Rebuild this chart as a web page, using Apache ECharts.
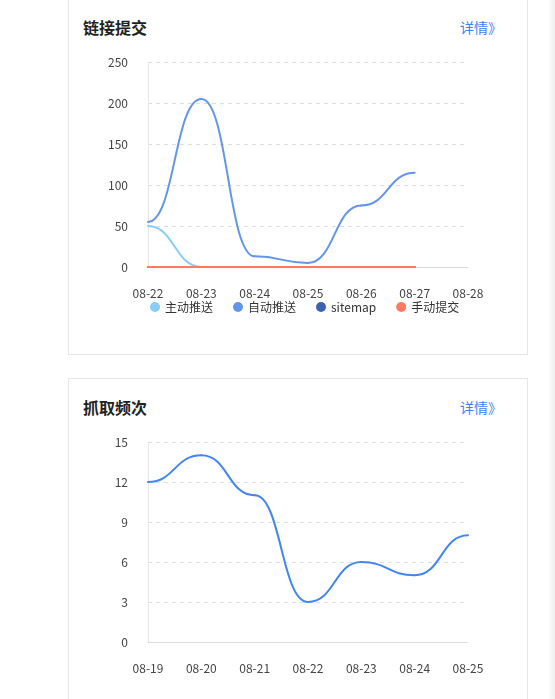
<!DOCTYPE html>
<html>
<head>
<meta charset="utf-8">
<script src="https://cdn.jsdelivr.net/npm/echarts@6/dist/echarts.min.js"></script>
<style>
  html, body { margin: 0; padding: 0; background: #fff; overflow: hidden; }
  body { width: 555px; height: 699px; position: relative; font-family: 'Noto Sans CJK SC', 'Noto Sans', sans-serif; }
  .card { position: absolute; left: 68px; width: 458px; border: 1px solid #e6e6e6; background: #fff; }
  .title { position: absolute; left: 83px; font-size: 16px; font-weight: bold; color: #222; line-height: 20px; }
  .more { position: absolute; left: 460px; font-size: 14px; color: #3d7eff; line-height: 18px; }
  .chart { position: absolute; left: 0; width: 555px; }
  .edge { position: absolute; left: 549px; top: 0; width: 6px; height: 699px; background: linear-gradient(to right, #fafafa, #f0f0f0); }
</style>
</head>
<body>
<div class="edge"></div>
<div class="card" style="top:-20px;height:373px;"></div>
<div class="card" style="top:378px;height:340px;"></div>
<div class="title" style="top:17px;">链接提交</div>
<div class="more" style="top:18px;">详情》</div>
<div class="title" style="top:397px;">抓取频次</div>
<div class="more" style="top:398px;">详情》</div>
<div id="c1" class="chart" style="top:0;height:354px;"></div>
<div id="c2" class="chart" style="top:378px;height:321px;"></div>
<script>
// 链接提交
var linkDays = ['08-22', '08-23', '08-24', '08-25', '08-26', '08-27', '08-28'];
var activePush = [50, 0, 0, 0, 0, 0];
var autoPush = [55, 205, 13, 5, 75, 115];
var sitemap = [0, 0, 0, 0, 0, 0];
var manual = [0, 0, 0, 0, 0, 0];

// 抓取频次
var crawlDays = ['08-19', '08-20', '08-21', '08-22', '08-23', '08-24', '08-25'];
var crawlCount = [12, 14, 11, 3, 6, 5, 8];

var font = "'Noto Sans CJK SC', 'Noto Sans', sans-serif";

function baseAxes(days, max, interval) {
  return {
    xAxis: {
      type: 'category',
      data: days,
      boundaryGap: false,
      axisLine: { lineStyle: { color: '#dcdcdc' } },
      axisTick: { show: false },
      axisLabel: { color: '#444', fontSize: 12, margin: 20, fontFamily: font }
    },
    yAxis: {
      type: 'value',
      min: 0,
      max: max,
      interval: interval,
      axisLine: { show: true, lineStyle: { color: '#e6e6e6' } },
      axisTick: { show: false },
      axisLabel: { color: '#444', fontSize: 12, margin: 20, fontFamily: font },
      splitLine: { lineStyle: { color: '#dddddd', type: [4, 4] } }
    }
  };
}

// smooth line with flat tangents at every point (old echarts look),
// one bezier per segment, positions from the axes via api.coord
function curveSeries(name, values, color) {
  var segs = [];
  for (var i = 0; i < values.length - 1; i++) {
    segs.push([i, values[i], i + 1, values[i + 1]]);
  }
  return {
    name: name,
    type: 'custom',
    data: segs,
    encode: { x: [0, 2], y: [1, 3] },
    itemStyle: { color: color },
    renderItem: function (params, api) {
      var p0 = api.coord([api.value(0), api.value(1)]);
      var p1 = api.coord([api.value(2), api.value(3)]);
      var half = (p1[0] - p0[0]) / 2;
      return {
        type: 'bezierCurve',
        shape: {
          x1: p0[0], y1: p0[1],
          x2: p1[0], y2: p1[1],
          cpx1: p0[0] + half, cpy1: p0[1],
          cpx2: p1[0] - half, cpy2: p1[1]
        },
        style: { stroke: color, lineWidth: 2, fill: null, lineCap: 'round' }
      };
    }
  };
}

var chart1 = echarts.init(document.getElementById('c1'));
var ax1 = baseAxes(linkDays, 250, 50);
chart1.setOption({
  animation: false,
  grid: { left: 148, width: 320, top: 62, height: 205 },
  legend: {
    left: 145,
    top: 296,
    icon: 'circle',
    itemWidth: 10,
    itemHeight: 10,
    itemGap: 20,
    textStyle: { color: '#333', fontSize: 12, fontFamily: font },
    data: ['主动推送', '自动推送', 'sitemap', '手动提交']
  },
  xAxis: ax1.xAxis,
  yAxis: ax1.yAxis,
  series: [
    curveSeries('主动推送', activePush, '#87cefa'),
    curveSeries('自动推送', autoPush, '#6495ed'),
    curveSeries('sitemap', sitemap, '#3d63b0'),
    curveSeries('手动提交', manual, '#ff7a5e')
  ]
});

var chart2 = echarts.init(document.getElementById('c2'));
var ax2 = baseAxes(crawlDays, 15, 3);
chart2.setOption({
  animation: false,
  grid: { left: 148, width: 320, top: 64, height: 200 },
  xAxis: ax2.xAxis,
  yAxis: ax2.yAxis,
  series: [curveSeries('抓取频次', crawlCount, '#4285f4')]
});
</script>
</body>
</html>
